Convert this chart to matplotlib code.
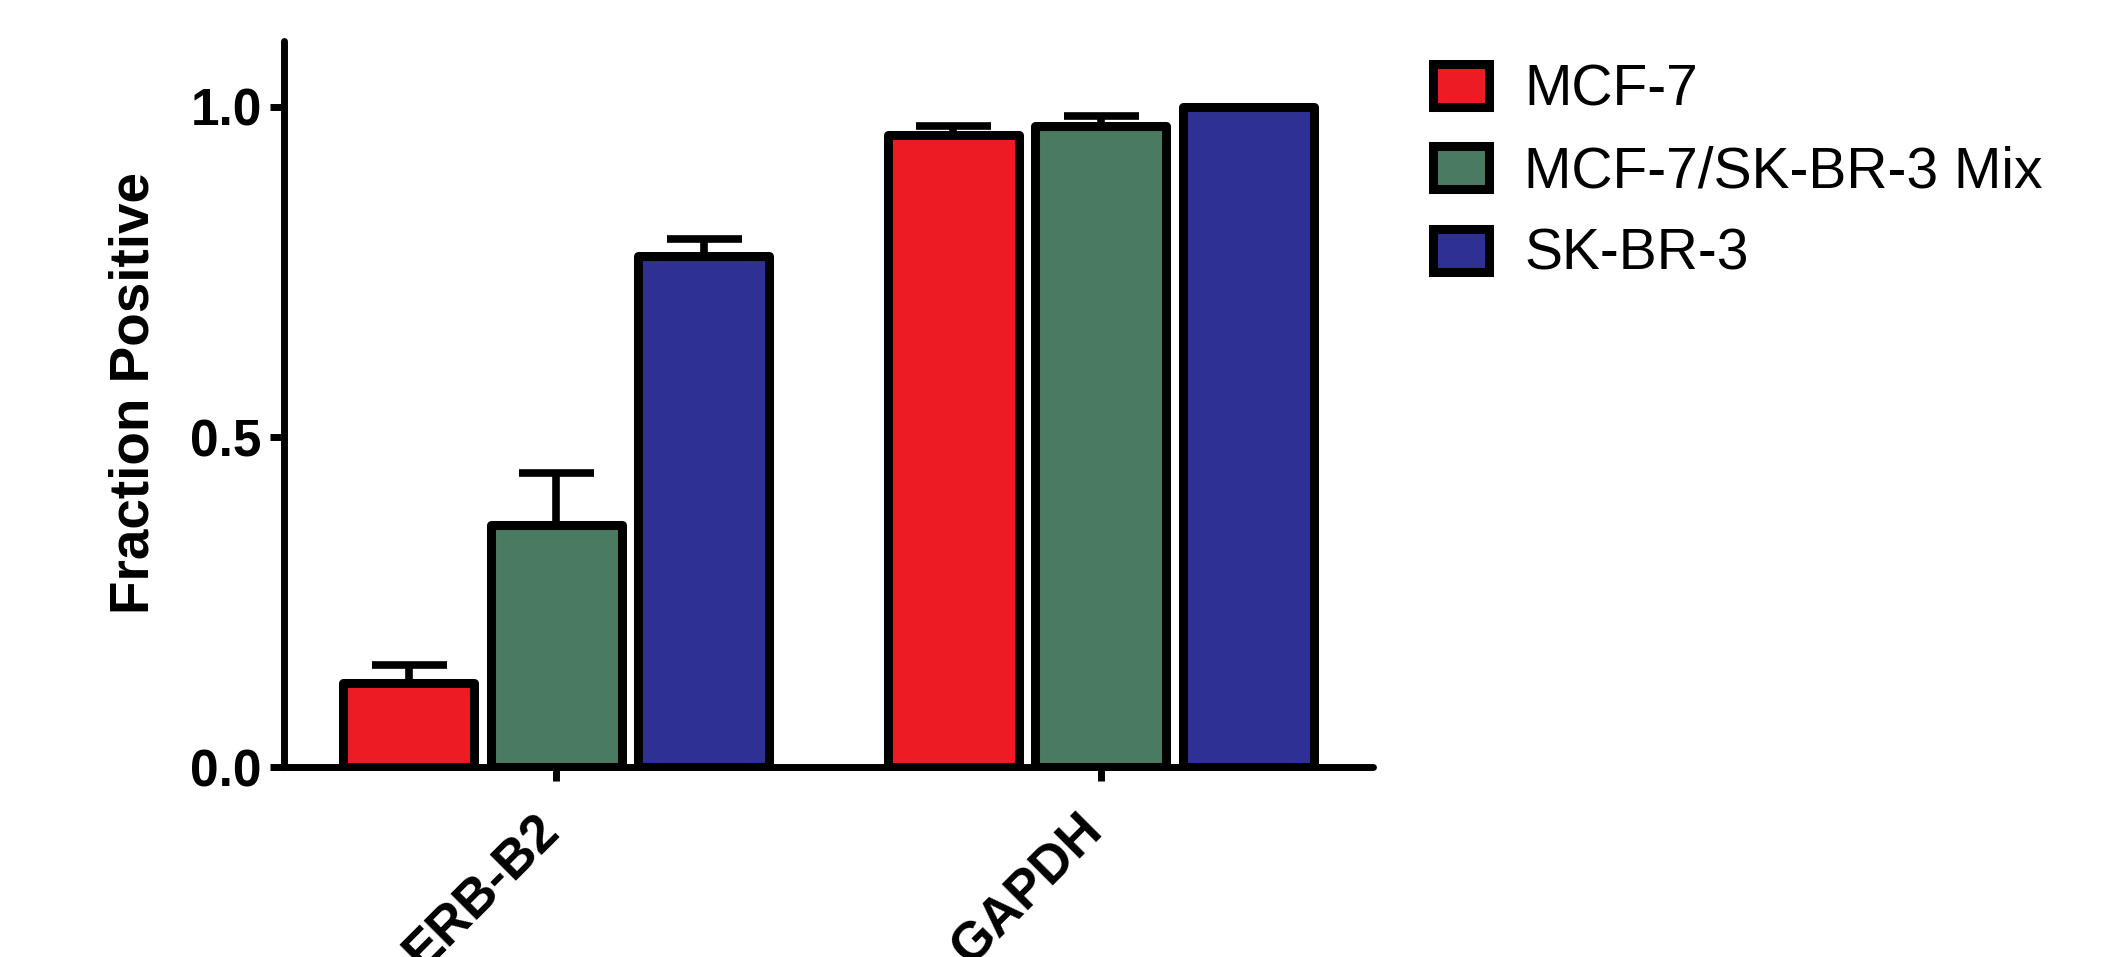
import matplotlib
matplotlib.use("Agg")
import matplotlib.pyplot as plt
import matplotlib.transforms as mtransforms
import numpy as np

plt.rcParams['font.family'] = ['Liberation Sans', 'DejaVu Sans']

genes = ["ERB-B2", "GAPDH"]
lines = ["MCF-7", "MCF-7/SK-BR-3 Mix", "SK-BR-3"]
colors = ["#ED1C24", "#4A7A5F", "#2E3192"]

# fraction positive per cell line, one value per gene
mean_mcf7 = [0.127, 0.957]
mean_mix = [0.367, 0.971]
mean_skbr3 = [0.774, 1.0]
err_mcf7 = [0.028, 0.014]
err_mix = [0.078, 0.015]
err_skbr3 = [0.026, 0.0]

means = [mean_mcf7, mean_mix, mean_skbr3]
errs = [err_mcf7, err_mix, err_skbr3]

fig = plt.figure(figsize=(21.21, 9.57), dpi=100)
ax = fig.add_axes([0.1339, 0.1985, 0.5134, 0.7587])

x = np.arange(len(genes))
width = 0.241
step = 0.271
for i in range(3):
    pos = x + (i - 1) * step
    ax.errorbar(pos, means[i], yerr=[np.zeros(len(genes)), errs[i]],
                fmt='none', ecolor='black', elinewidth=5.5,
                capsize=27, capthick=5.5, zorder=1)
    ax.bar(pos, means[i], width, color=colors[i], edgecolor='black',
           linewidth=6.5, joinstyle='round', label=lines[i], zorder=2)

ax.set_xlim(-0.5, 1.5)
ax.set_ylim(0, 1.1)
ax.set_yticks([0.0, 0.5, 1.0])
ax.set_yticklabels(["0.0", "0.5", "1.0"])
ax.set_xticks(x)
ax.set_xticklabels(genes, rotation=45, ha='right', va='top',
                   rotation_mode='anchor')

for s in ['top', 'right']:
    ax.spines[s].set_visible(False)
for s in ['left', 'bottom']:
    ax.spines[s].set_linewidth(5)
    ax.spines[s].set_capstyle('round')

ax.tick_params(axis='both', width=5, length=10, labelsize=37, pad=6)
ax.tick_params(axis='x', labelsize=38, pad=17)
for lab in ax.get_yticklabels() + ax.get_xticklabels():
    lab.set_fontweight('bold')

# nudge the slanted gene names a bit to the left of their ticks
shift = mtransforms.ScaledTranslation(-0.23, 0, fig.dpi_scale_trans)
for lab in ax.get_xticklabels():
    lab.set_transform(lab.get_transform() + shift)

ax.set_ylabel("Fraction Positive", fontsize=39.5, fontweight='bold')
ax.yaxis.set_label_coords(-0.113, 0.515)

fig.legend(loc='upper left', bbox_to_anchor=(1433 / 2121, 1 - 63 / 957),
           frameon=False, fontsize=41, handlelength=0.98, handleheight=0.78,
           handletextpad=0.62, labelspacing=0.5, borderaxespad=0,
           borderpad=0)

fig.savefig("out.png", dpi=100)
